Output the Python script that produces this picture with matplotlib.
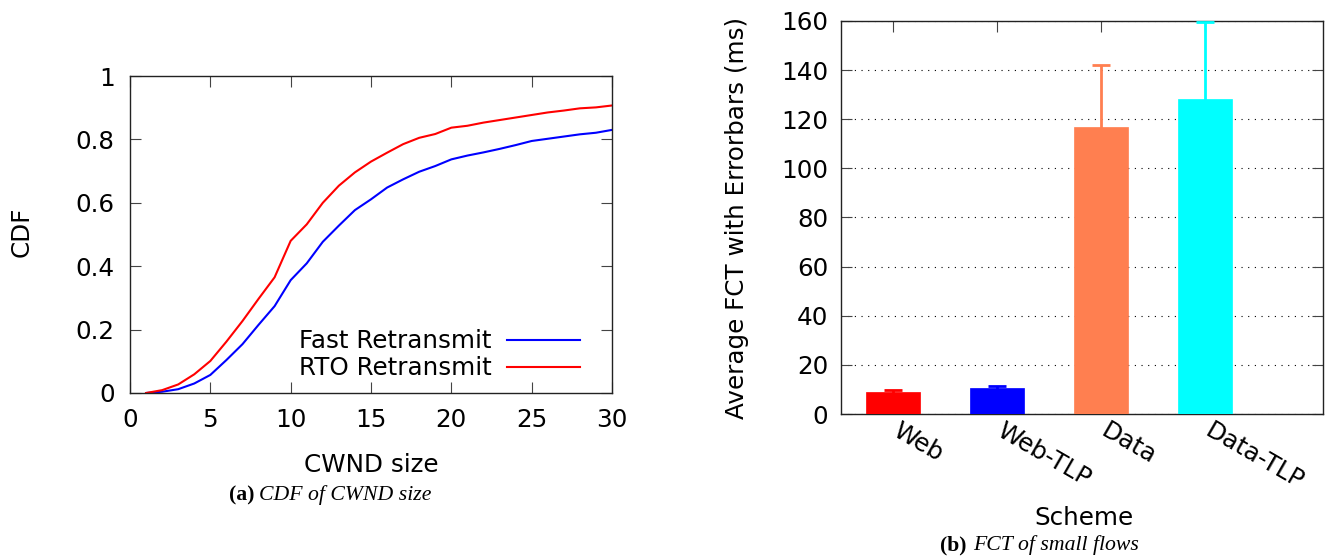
#!/usr/bin/env python3

import matplotlib
matplotlib.use("Agg")
import matplotlib.pyplot as plt
from matplotlib.transforms import ScaledTranslation

# (a) CDF of CWND size
cwnd = list(range(1, 31))
cdf_fast = [0.0, 0.004, 0.012, 0.03, 0.057, 0.104, 0.154, 0.215, 0.274, 0.356,
            0.409, 0.477, 0.528, 0.577, 0.611, 0.648, 0.674, 0.698, 0.716, 0.737,
            0.749, 0.759, 0.770, 0.782, 0.795, 0.802, 0.809, 0.816, 0.821, 0.830]
cdf_rto = [0.0, 0.009, 0.027, 0.059, 0.101, 0.162, 0.227, 0.297, 0.365, 0.480,
           0.532, 0.600, 0.654, 0.696, 0.730, 0.758, 0.785, 0.805, 0.817, 0.837,
           0.843, 0.853, 0.861, 0.869, 0.877, 0.885, 0.891, 0.898, 0.901, 0.907]
cdf_yticks = [0, 0.2, 0.4, 0.6, 0.8, 1]
cdf_ylabels = ["0", "0.2", "0.4", "0.6", "0.8", "1"]

# (b) FCT of small flows
schemes = ["Web", "Web-TLP", "Data", "Data-TLP"]
fct_mean = [8.8, 10.6, 116.9, 128.1]
fct_err = [0.8, 0.7, 25.2, 31.6]
bar_colors = ["#ff0000", "#0000ff", "#ff7f50", "#00ffff"]

W, H = 1328, 558
fig = plt.figure(figsize=(W / 100, H / 100), dpi=100)
FS = 17.7

def px(x0, y0, x1, y1):
    # pixel box (left, top, right, bottom) -> figure fraction
    return [x0 / W, 1 - y1 / H, (x1 - x0) / W, (y1 - y0) / H]

ax1 = fig.add_axes(px(130, 76, 612, 393))
ax1.plot(cwnd, cdf_fast, color="#0000ff", lw=1.5, label="Fast Retransmit")
ax1.plot(cwnd, cdf_rto, color="#ff0000", lw=1.5, label="RTO Retransmit")
ax1.set_xlim(0, 30)
ax1.set_ylim(0, 1)
ax1.set_xticks(range(0, 31, 5))
ax1.set_yticks(cdf_yticks)
ax1.set_yticklabels(cdf_ylabels)
ax1.tick_params(direction="in", length=8, width=0.8, top=True, right=True,
                labelsize=FS, pad=11, color="#444444")
ax1.legend(loc="lower right", bbox_to_anchor=(0.965, -0.006), frameon=False,
           markerfirst=False, fontsize=FS, handlelength=3.0,
           handletextpad=0.6, labelspacing=0.12, borderaxespad=0.2)

ax2 = fig.add_axes(px(841, 21, 1323, 414))
pos = list(range(len(schemes)))
ax2.bar(pos, fct_mean, width=0.52, color=bar_colors, zorder=3,
        edgecolor=bar_colors, linewidth=0.5)
for p, m, e, c in zip(pos, fct_mean, fct_err, bar_colors):
    ax2.errorbar(p, m, yerr=e, color=c, elinewidth=2, capsize=6.5,
                 capthick=2, zorder=4)
ax2.set_xlim(-0.5, 4.13)
ax2.set_ylim(0, 160)
ax2.set_yticks(range(0, 161, 20))
ax2.set_xticks(pos)
ax2.set_xticklabels(schemes, rotation=-30, ha="left", va="top",
                    rotation_mode="anchor")
ax2.yaxis.grid(True, linestyle=(0, (1, 5)), color="black", lw=0.8)
ax2.set_axisbelow(True)
ax2.tick_params(direction="in", length=8, width=0.8, top=True, right=True,
                labelsize=FS, color="#444444")
ax2.tick_params(axis="y", pad=9)
ax2.tick_params(axis="x", pad=3.5)
shift = ScaledTranslation(0.08, 0, fig.dpi_scale_trans)
for lab in ax2.get_xticklabels():
    lab.set_transform(lab.get_transform() + shift)

for ax in (ax1, ax2):
    for s in ax.spines.values():
        s.set_linewidth(1.0)
        s.set_color("#222222")

# axis titles
fig.text(22 / W, 1 - 232 / H, "CDF", rotation=90, ha="center", va="center", fontsize=FS)
fig.text(371 / W, 1 - 465 / H, "CWND size", ha="center", va="center", fontsize=FS)
fig.text(737 / W, 1 - 218 / H, "Average FCT with Errorbars (ms)", rotation=90,
         ha="center", va="center", fontsize=FS)
fig.text(1084 / W, 1 - 518 / H, "Scheme", ha="center", va="center", fontsize=FS)

# captions
cap = dict(family="Liberation Serif", fontsize=15.7, va="center")
fig.text(255 / W, 1 - 495 / H, "(a)", ha="right", weight="bold", **cap)
fig.text(259 / W, 1 - 495 / H, "CDF of CWND size", ha="left", style="italic", **cap)
fig.text(967 / W, 1 - 545 / H, "(b)", ha="right", weight="bold", **cap)
fig.text(973 / W, 1 - 545 / H, "FCT of small flows", ha="left", style="italic", **cap)

fig.savefig("out.png", dpi=100)
